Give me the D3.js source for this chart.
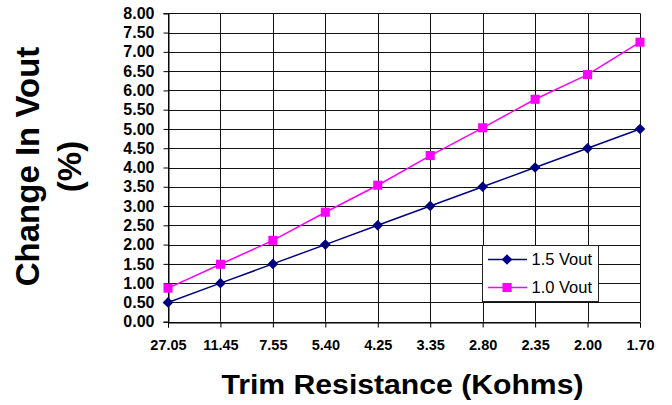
<!DOCTYPE html>
<html><head><meta charset="utf-8">
<script src="https://cdn.jsdelivr.net/npm/d3@7"></script>
<style>
html,body{margin:0;padding:0;background:#fff;}
svg{display:block;font-family:"Liberation Sans",Arial,sans-serif;}
</style></head>
<body>
<svg id="chart" width="672" height="405"></svg>
<script>
const categories = ["27.05","11.45","7.55","5.40","4.25","3.35","2.80","2.35","2.00","1.70"];
const vout15 = [0.50,1.00,1.50,2.00,2.50,3.00,3.50,4.00,4.50,5.00];
const vout10 = [0.87,1.49,2.11,2.84,3.54,4.31,5.03,5.77,6.41,7.25];
const yTicks = [0,0.5,1,1.5,2,2.5,3,3.5,4,4.5,5,5.5,6,6.5,7,7.5,8];
const seriesNames = ["1.5 Vout","1.0 Vout"];

const svg = d3.select("#chart");
const L = 168, R = 640, T = 13.3, B = 321.7;
const x = d3.scalePoint().domain(categories).range([L, R]).padding(0);
const y = d3.scaleLinear().domain([0, 8]).range([B, T]);

// gridlines
const g = svg.append("g");
g.selectAll("line.h").data(yTicks).join("line")
  .attr("x1", L).attr("x2", R)
  .attr("y1", d => Math.round(y(d)) + 0.5).attr("y2", d => Math.round(y(d)) + 0.5)
  .attr("stroke", "#111").attr("stroke-width", 1);
g.selectAll("line.v").data(categories).join("line")
  .attr("x1", d => Math.round(x(d)) + 0.5).attr("x2", d => Math.round(x(d)) + 0.5)
  .attr("y1", T).attr("y2", B)
  .attr("stroke", "#111").attr("stroke-width", 1);

// axes
const yAxis = svg.append("g").attr("transform", `translate(${Math.round(L)+0.5},0)`)
  .call(d3.axisLeft(y).tickValues(yTicks).tickFormat(d3.format(".2f")).tickSize(5).tickPadding(9));
yAxis.select(".domain").attr("stroke", "#000");
yAxis.selectAll(".tick line").attr("stroke", "#000");
yAxis.selectAll("text").attr("font-size", 16).attr("font-weight", "bold").attr("fill", "#000")
  .attr("font-family", "Liberation Sans, Arial, sans-serif");

const xAxis = svg.append("g").attr("transform", `translate(0,${Math.round(B)+0.5})`)
  .call(d3.axisBottom(x).tickSize(5).tickPadding(12));
xAxis.select(".domain").attr("stroke", "#000");
xAxis.selectAll(".tick line").attr("stroke", "#000");
xAxis.selectAll("text").attr("font-size", 14.5).attr("font-weight", "bold").attr("fill", "#000")
  .attr("font-family", "Liberation Sans, Arial, sans-serif");

// series
const line = d3.line().x((d, i) => x(categories[i])).y(d => y(d));
svg.append("path").datum(vout15).attr("d", line).attr("fill", "none")
  .attr("stroke", "#000080").attr("stroke-width", 1.5);
svg.append("path").datum(vout10).attr("d", line).attr("fill", "none")
  .attr("stroke", "#FF00FF").attr("stroke-width", 1.5);

const diamond = d3.symbol().type(d3.symbolDiamond2).size(72);
const square = d3.symbol().type(d3.symbolSquare2).size(105);
svg.selectAll("path.d15").data(vout15).join("path")
  .attr("transform", (d, i) => `translate(${x(categories[i])},${y(d)})`)
  .attr("d", diamond).attr("fill", "#000080");
svg.selectAll("path.d10").data(vout10).join("path")
  .attr("transform", (d, i) => `translate(${x(categories[i])},${y(d)})`)
  .attr("d", square).attr("fill", "#FF00FF");

// legend
const lg = svg.append("g");
lg.append("rect").attr("x", 482.5).attr("y", 245.5).attr("width", 116).attr("height", 56)
  .attr("fill", "#fff").attr("stroke", "#222").attr("stroke-width", 1);
const colors = ["#000080", "#FF00FF"];
const syms = [diamond, square];
seriesNames.forEach((name, i) => {
  const cy = 259.5 + i * 28;
  lg.append("line").attr("x1", 488).attr("x2", 527).attr("y1", cy).attr("y2", cy)
    .attr("stroke", colors[i]).attr("stroke-width", 1.5);
  lg.append("path").attr("transform", `translate(507,${cy})`).attr("d", syms[i]).attr("fill", colors[i]);
  lg.append("text").attr("x", 531.5).attr("y", cy + 5.5).attr("font-size", 16.5)
    .attr("fill", "#000").text(name);
});

// titles
svg.append("text").attr("x", 402.5).attr("y", 394).attr("text-anchor", "middle")
  .attr("font-size", 27).attr("font-weight", "bold")
  .attr("textLength", 362).attr("lengthAdjust", "spacingAndGlyphs")
  .text("Trim Resistance (Kohms)");
const yt = svg.append("text").attr("transform", "translate(39,166.5) rotate(-90)")
  .attr("text-anchor", "middle").attr("font-size", 33).attr("font-weight", "bold");
yt.append("tspan").attr("x", 0).attr("y", 0).text("Change In Vout");
yt.append("tspan").attr("x", 0).attr("y", 42).text("(%)");
</script>
</body></html>
